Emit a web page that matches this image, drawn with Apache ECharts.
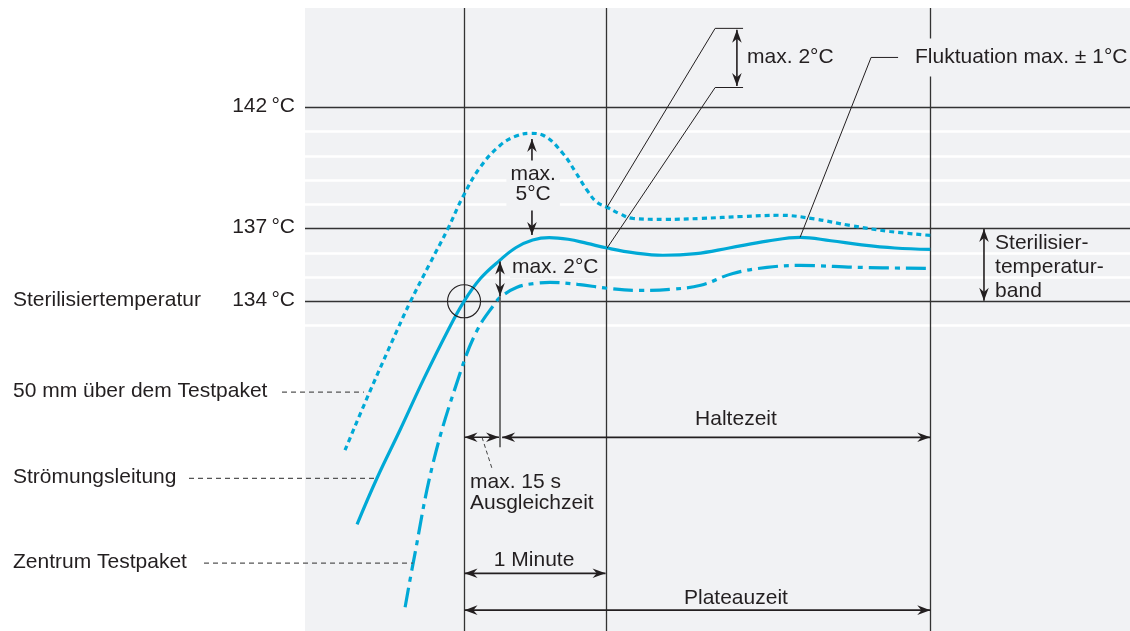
<!DOCTYPE html>
<html>
<head>
<meta charset="utf-8">
<script src="https://cdn.jsdelivr.net/npm/echarts@6/dist/echarts.min.js"></script>
<style>
  html, body { margin: 0; padding: 0; background: #ffffff; }
  #chart { width: 1130px; height: 631px; }
</style>
</head>
<body>
<div id="chart"></div>
<script>
// Time axis: seconds from the start of the plateau; value axis: temperature in °C
const timeMin = -67.2, timeMax = 281.4;
const tempMin = 120.4, tempMax = 146.1;
const plateauEnd = 197;
const timeMarks = [0, 60, plateauEnd];
const tempTicks = [134, 137, 142];
const tempTickLabels = ['134\u2009°C', '137\u2009°C', '142\u2009°C'];
const minorTemps = [133, 135, 136, 138, 139, 140, 141];

const seriesNames = ['50 mm über dem Testpaket', 'Strömungsleitung', 'Zentrum Testpaket'];

// 50 mm above the test pack (dotted)
const aboveTime = [-50.3, -39.7, -28.3, -22.8, -14.5, -6.8, -0.6, 6.8, 15.2, 22, 28, 34, 41.8, 47, 52, 56, 60.4, 66, 71.4, 85, 100, 118, 133.5, 148, 163, 180, 197];
const aboveTemp = [127.86, 130.3, 132.8, 133.96, 135.55, 137.0, 138.29, 139.53, 140.43, 140.82, 140.93, 140.82, 140.1, 139.35, 138.58, 138.1, 137.88, 137.6, 137.42, 137.38, 137.42, 137.5, 137.55, 137.4, 137.13, 136.88, 136.72];

// Drain line (solid)
const flowTime = [-45.2, -36.8, -27.0, -17, -6.8, 0, 7, 15.2, 22, 29, 36, 44, 52, 60.4, 72, 84, 98, 112, 128, 142, 155, 168, 182, 197];
const flowTemp = [124.8, 126.7, 128.7, 130.8, 132.8, 134.0, 134.95, 135.7, 136.22, 136.53, 136.63, 136.56, 136.39, 136.2, 136.0, 135.9, 135.97, 136.2, 136.48, 136.64, 136.5, 136.33, 136.2, 136.14];

// Centre of the test pack (dash-dot)
const centerTime = [-24.9, -21.5, -13.1, -1.7, 5.5, 13.1, 15.2, 22.4, 30, 36.3, 48, 60.4, 74, 88, 100, 113.6, 128, 142, 167, 197];
const centerTemp = [121.38, 123.2, 127.32, 131.03, 132.8, 133.92, 134.16, 134.58, 134.74, 134.78, 134.7, 134.54, 134.45, 134.5, 134.66, 135.15, 135.4, 135.48, 135.4, 135.36];

const pair = (xs, ys) => xs.map((x, i) => [x, ys[i]]);

const ink = '#231f20';
const curveColor = '#00a9d6';
const font = '"Liberation Sans", Arial, Helvetica, sans-serif';
const fontSize = 21;
const paper = '#f1f2f4';

const chart = echarts.init(document.getElementById('chart'), null, { renderer: 'canvas' });

const curveBase = {
  type: 'line',
  showSymbol: false,
  smooth: 0.4,
  z: 3,
  silent: true
};

chart.setOption({
  animation: false,
  backgroundColor: '#ffffff',
  grid: {
    left: 305, right: 0, top: 8, bottom: 0,
    show: true, backgroundColor: paper, borderWidth: 0
  },
  xAxis: { type: 'value', min: timeMin, max: timeMax, show: false },
  yAxis: { type: 'value', min: tempMin, max: tempMax, show: false },
  series: [
    {
      // reference lines of the temperature / time frame
      type: 'line',
      data: [],
      silent: true,
      markLine: {
        silent: true,
        symbol: 'none',
        z: 1,
        label: { show: false },
        data: [
          ...minorTemps.map(v => ({ yAxis: v, lineStyle: { color: '#ffffff', width: 2.5, type: 'solid' } })),
          ...tempTicks.map(v => ({ yAxis: v, lineStyle: { color: '#333333', width: 1.3, type: 'solid' } })),
          ...timeMarks.map(v => ({ xAxis: v, lineStyle: { color: '#333333', width: 1.3, type: 'solid' } }))
        ]
      }
    },
    Object.assign({}, curveBase, {
      name: seriesNames[0],
      data: pair(aboveTime, aboveTemp),
      lineStyle: { color: curveColor, width: 3.2, type: [5, 4] }
    }),
    Object.assign({}, curveBase, {
      name: seriesNames[1],
      data: pair(flowTime, flowTemp),
      lineStyle: { color: curveColor, width: 3.2, type: 'solid' }
    }),
    Object.assign({}, curveBase, {
      name: seriesNames[2],
      data: pair(centerTime, centerTemp),
      lineStyle: { color: curveColor, width: 3.2, type: [20, 6, 5, 6] }
    })
  ]
});

// ---- annotations, positioned in data units and mapped through the axes ----
const P = (t, c) => chart.convertToPixel({ gridIndex: 0 }, [t, c]);
const gridLeft = 305;

function seg(a, b, extra) {
  return {
    type: 'line', z: 100, silent: true,
    shape: { x1: a[0], y1: a[1], x2: b[0], y2: b[1] },
    style: Object.assign({ stroke: ink, lineWidth: 1 }, extra || {})
  };
}
function head(tip, from) {
  const dx = tip[0] - from[0], dy = tip[1] - from[1];
  const len = Math.hypot(dx, dy) || 1;
  const ux = dx / len, uy = dy / len;
  const L = 13, W = 4.8;
  const bx = tip[0] - ux * L, by = tip[1] - uy * L;
  return {
    type: 'polygon', z: 101, silent: true,
    shape: { points: [tip, [bx - uy * W, by + ux * W], [tip[0] - ux * L * 0.68, tip[1] - uy * L * 0.68], [bx + uy * W, by - ux * W]] },
    style: { fill: ink }
  };
}
function arrow(a, b, both, width) {
  const out = [seg(a, b, { lineWidth: width || 1.6 }), head(b, a)];
  if (both) out.push(head(a, b));
  return out;
}
function label(str, pos, align, extra) {
  return {
    type: 'text', z: 102, silent: true,
    x: pos[0], y: pos[1],
    style: Object.assign({
      text: str, fill: ink, font: fontSize + 'px ' + font,
      align: align || 'left', verticalAlign: 'middle', lineHeight: 20
    }, extra || {})
  };
}

function buildAnnotations() {
  const els = [];

  // temperature labels left of the frame
  tempTicks.forEach((v, i) => {
    const p = P(timeMin, v);
    els.push(label(tempTickLabels[i], [gridLeft - 10, p[1] - 1], 'right'));
  });
  els.push(label('Sterilisiertemperatur', [13, P(0, 134)[1] - 1], 'left'));

  // curve names with dashed leaders
  const names = [
    { text: seriesNames[0], temp: 130.25, textEnd: 282, toTime: -42.3 },
    { text: seriesNames[1], temp: 126.7, textEnd: 189, toTime: -36.8 },
    { text: seriesNames[2], temp: 123.2, textEnd: 204, toTime: -21.5 }
  ];
  names.forEach(n => {
    const y = P(0, n.temp)[1];
    els.push(label(n.text, [13, y - 1], 'left'));
    els.push(seg([n.textEnd, y], [P(n.toTime, n.temp)[0], y], { stroke: '#555555', lineWidth: 1.2, lineDash: [5, 4] }));
  });

  // crossing of the sterilisation temperature
  const c0 = P(0, 134);
  els.push({ type: 'circle', z: 100, silent: true, shape: { cx: c0[0], cy: c0[1], r: 16.5 }, style: { fill: 'none', stroke: ink, lineWidth: 1.1 } });

  // overshoot max. 5 °C
  els.push(label('max.\n5°C', P(29.2, 138.82), 'center', { backgroundColor: paper, padding: [2, 4, 2, 4] }));
  els.push(...arrow(P(28.7, 139.81), P(28.7, 140.7), false, 1.6));
  els.push(...arrow(P(28.7, 137.75), P(28.7, 136.74), false, 1.6));

  // max. 2 °C between drain line and pack centre
  els.push(seg(P(15.2, 134.25), P(15.2, 127.98), { stroke: '#555555', lineWidth: 1.6 }));
  els.push(...arrow(P(15.2, 135.64), P(15.2, 134.22), true, 1.6));
  els.push(label('max. 2°C', P(19.4, 135.4), 'left', { backgroundColor: paper, padding: [1, 2, 1, 2] }));

  // max. 2 °C between the upper probe and the drain line
  const topA = P(106.1, 145.26), topB = P(117.9, 145.26);
  const lowA = P(106.1, 142.82), lowB = P(117.9, 142.82);
  els.push(seg(topA, topB), seg(lowA, lowB));
  els.push(seg(topA, P(60.4, 137.88)), seg(lowA, P(60.4, 136.19)));
  els.push(...arrow(P(115.3, 145.2), P(115.3, 142.88), true, 1.6));
  els.push(label('max. 2°C', P(119.6, 144.06), 'left'));

  // fluctuation
  els.push(label('Fluktuation max. ± 1°C', P(188.0, 144.06), 'left', { backgroundColor: paper, padding: [9, 6, 9, 6] }));
  els.push(seg(P(183.4, 144.06), P(172.0, 144.06)));
  els.push(seg(P(172.0, 144.06), P(142.0, 136.64)));

  // sterilisation temperature band
  els.push(...arrow(P(219.7, 136.98), P(219.7, 134.02), true, 1.6));
  els.push(label('Sterilisier-\ntemperatur-\nband', P(224.4, 135.41), 'left', { lineHeight: 24 }));

  // holding time and equilibration time
  const holdT = 128.39;
  els.push(...arrow(P(16.1, holdT), P(plateauEnd, holdT), true, 1.8));
  els.push(label('Haltezeit', P(114.9, 129.12), 'center'));
  els.push(...arrow(P(0.2, holdT), P(14.8, holdT), true, 1.4));
  els.push(seg(P(7.6, holdT), P(11.8, 127.11), { stroke: '#444444', lineWidth: 1, lineDash: [4, 3] }));
  els.push(label('max. 15 s\nAusgleichzeit', P(2.5, 126.1), 'left', { lineHeight: 21 }));

  // one minute
  els.push(...arrow(P(0.2, 122.78), P(59.8, 122.78), true, 1.8));
  els.push(label('1 Minute', P(29.6, 123.32), 'center'));

  // plateau time
  els.push(...arrow(P(plateauEnd, 121.26), P(0.2, 121.26), true, 1.8));
  els.push(label('Plateauzeit', P(114.9, 121.75), 'center'));

  return els;
}

chart.setOption({ graphic: { elements: buildAnnotations() } });
</script>
</body>
</html>
